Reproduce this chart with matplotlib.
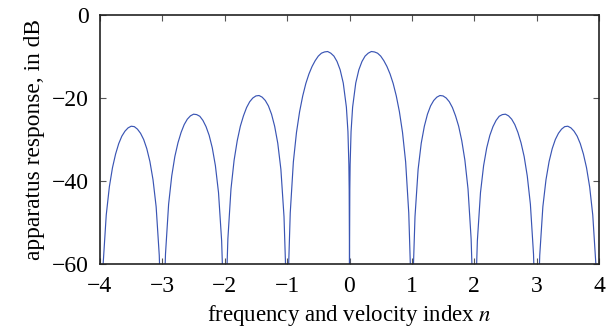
import matplotlib
matplotlib.use("Agg")
import matplotlib.pyplot as plt

# apparatus response in dB (values below -60 are clipped by the axes)
n_neg = [-4.0, -3.975, -3.95, -3.9, -3.85, -3.8, -3.75, -3.7, -3.65, -3.6, -3.55, -3.5,
         -3.45, -3.4, -3.35, -3.3, -3.25, -3.2, -3.15, -3.1, -3.05, -3.025, -3.0,
         -2.975, -2.95, -2.9, -2.85, -2.8, -2.75, -2.7, -2.65, -2.6, -2.55, -2.5,
         -2.45, -2.4, -2.35, -2.3, -2.25, -2.2, -2.15, -2.1, -2.05, -2.025, -2.0,
         -1.975, -1.95, -1.9, -1.85, -1.8, -1.75, -1.7, -1.65, -1.6, -1.55, -1.5,
         -1.45, -1.4, -1.35, -1.3, -1.25, -1.2, -1.15, -1.1, -1.05, -1.025, -1.0,
         -0.99, -0.975, -0.95, -0.9, -0.85, -0.8, -0.75, -0.7, -0.65, -0.6, -0.55, -0.5,
         -0.45, -0.4, -0.35, -0.3, -0.25, -0.2, -0.15, -0.1, -0.05, -0.025, -0.01,
         -0.005, -0.001, 0.0]
db_neg = [-80.0, -72.2, -60.1, -48.2, -41.4, -36.8, -33.5, -31.0, -29.2, -28.0, -27.2, -26.8,
          -26.9, -27.5, -28.5, -30.0, -32.2, -35.3, -39.7, -46.2, -57.9, -69.8, -80.0,
          -69.7, -57.6, -45.6, -38.8, -34.1, -30.8, -28.3, -26.4, -25.1, -24.3, -23.9,
          -24.0, -24.4, -25.4, -26.9, -29.0, -32.0, -36.3, -42.8, -54.4, -66.3, -80.0,
          -66.1, -54.0, -41.9, -35.0, -30.3, -26.8, -24.3, -22.3, -20.9, -20.0, -19.5,
          -19.4, -19.8, -20.6, -21.9, -23.9, -26.8, -30.9, -37.2, -48.6, -60.4, -80.0,
          -76.0, -60.0, -47.7, -35.4, -28.3, -23.3, -19.5, -16.5, -14.2, -12.4, -11.0, -9.9,
          -9.2, -8.9, -8.8, -9.2, -9.9, -11.2, -13.2, -16.4, -22.2, -28.1, -36.1,
          -42.1, -56.1, -80.0]
n_pos = [0.0, 0.001, 0.005, 0.01, 0.025, 0.05, 0.1, 0.15, 0.2, 0.25, 0.3, 0.35, 0.4,
         0.45, 0.5, 0.55, 0.6, 0.65, 0.7, 0.75, 0.8, 0.85, 0.9, 0.95, 0.975, 0.99, 1.0,
         1.025, 1.05, 1.1, 1.15, 1.2, 1.25, 1.3, 1.35, 1.4, 1.45, 1.5, 1.55, 1.6, 1.65,
         1.7, 1.75, 1.8, 1.85, 1.9, 1.95, 1.975, 2.0,
         2.025, 2.05, 2.1, 2.15, 2.2, 2.25, 2.3, 2.35, 2.4, 2.45, 2.5, 2.55, 2.6, 2.65,
         2.7, 2.75, 2.8, 2.85, 2.9, 2.95, 2.975, 3.0,
         3.025, 3.05, 3.1, 3.15, 3.2, 3.25, 3.3, 3.35, 3.4, 3.45, 3.5, 3.55, 3.6, 3.65,
         3.7, 3.75, 3.8, 3.85, 3.9, 3.95, 3.975, 4.0]
db_pos = [-80.0, -56.1, -42.1, -36.1, -28.1, -22.2, -16.4, -13.2, -11.2, -9.9, -9.2, -8.8, -8.9,
          -9.2, -9.9, -11.0, -12.4, -14.2, -16.5, -19.5, -23.3, -28.3, -35.4, -47.7, -60.0, -76.0, -80.0,
          -60.4, -48.6, -37.2, -30.9, -26.8, -23.9, -21.9, -20.6, -19.8, -19.4, -19.5, -20.0, -20.9, -22.3,
          -24.3, -26.8, -30.3, -35.0, -41.9, -54.0, -66.1, -80.0,
          -66.3, -54.4, -42.8, -36.3, -32.0, -29.0, -26.9, -25.4, -24.4, -24.0, -23.9, -24.3, -25.1, -26.4,
          -28.3, -30.8, -34.1, -38.8, -45.6, -57.6, -69.7, -80.0,
          -69.8, -57.9, -46.2, -39.7, -35.3, -32.2, -30.0, -28.5, -27.5, -26.9, -26.8, -27.2, -28.0, -29.2,
          -31.0, -33.5, -36.8, -41.4, -48.2, -60.1, -72.2, -80.0]

x_ticks = [-4, -3, -2, -1, 0, 1, 2, 3, 4]
y_ticks = [-60, -40, -20, 0]

plt.rcParams["font.family"] = ["Liberation Serif", "DejaVu Serif"]
plt.rcParams["mathtext.fontset"] = "stix"

fig = plt.figure(figsize=(6.12, 3.33), dpi=100)
ax = fig.add_axes([100 / 612, 1 - 264 / 333, 499 / 612, 249 / 333])

ax.plot(n_neg + n_pos, db_neg + db_pos, color="#3a55b4", linewidth=0.85)

ax.set_xlim(-4, 4)
ax.set_ylim(-60, 0)
ax.set_xticks(x_ticks)
ax.set_yticks(y_ticks)
ax.tick_params(direction="in", length=4, width=0.8, color="#555555",
               top=True, right=True, labelsize=17)
ax.tick_params(axis="x", pad=9)
ax.tick_params(axis="y", pad=8)
for s in ax.spines.values():
    s.set_linewidth(1.2)
    s.set_color("#222222")

ax.set_xlabel("frequency and velocity index $n$", fontsize=16.5, labelpad=4)
ax.set_ylabel("apparatus response, in dB", fontsize=16.8, labelpad=5)

fig.savefig("out.png", dpi=100)
